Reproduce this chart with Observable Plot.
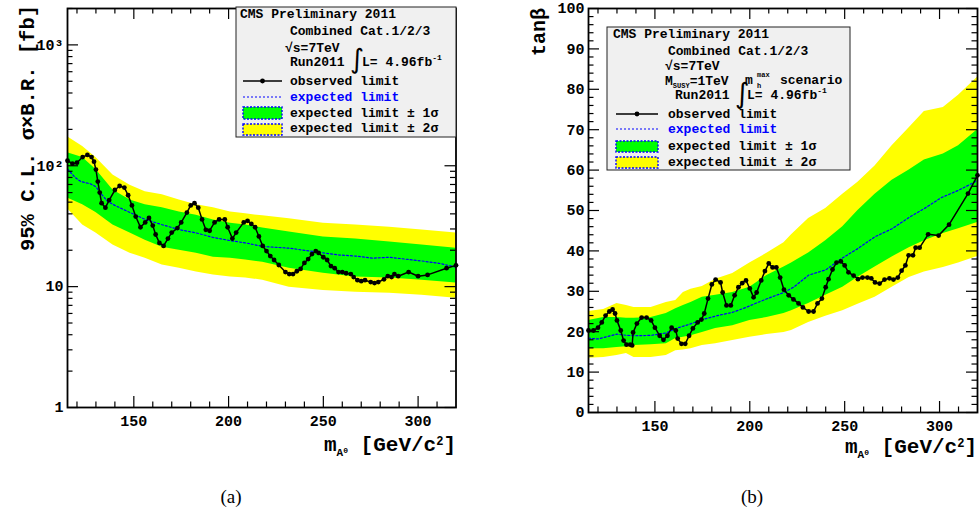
<!DOCTYPE html>
<html>
<head>
<meta charset="utf-8">
<script src="https://cdn.jsdelivr.net/npm/d3@7"></script>
<script src="https://cdn.jsdelivr.net/npm/@observablehq/plot@0.6"></script>
<style>
  html, body { margin: 0; padding: 0; background: #fff; }
  #root { position: relative; width: 980px; height: 511px; background: #fff; overflow: hidden; }
</style>
</head>
<body>
<div id="root"></div>
<script>
// ---------------- DATA ----------------
// Panel (a): 95% CL sigma x BR [fb] vs m_A0
const massObsA = [115,117.6,120,123,125.5,127.7,129,130,131,132,133,135,137,140,142.5,145,147,149,151,153.5,156,158,160,161.5,163.5,165.7,168,170,173,175,178,180,182,184,186,188,190,192.6,195,198,199.5,202,204,208,210,212,214,216,218,220,222,224,226.5,230,232,234,236,238,240,242,244,246,247.5,250,252,254,256,258,260,262,264.5,266,268,270,272,275,277,279,282,284,286,287.5,289.5,295,300,305,315,320];
const observedA = [110,104,106,118,123,118,108,93,74,60,49,45,52,63,68,66,57,47,38,31,34,37,32,27,23,21.7,25,28,30.5,34,41,47,49,45,36,29.5,29,34,36,36,31,25,28,34,35,33,31,26,21.7,19.7,17.9,16.6,15.1,13.2,12.7,12.7,13.4,14,15.7,16.9,18.6,19.7,19,17.5,16.6,14.8,14.2,13.2,13.2,12.9,12.7,12,11.3,11.1,11.3,10.9,10.7,10.9,11.5,12.2,12,12.7,12.2,13.2,12.2,12.5,14.2,15];
const massExpA = [115,119,122,127,130,133,136,140,148,156,165,174,183,192,201,209,218,232,246,258,267,276,285,293,302,311,320];
const expectedA = [94,80,74,71,67,58,51,47,41,36,32.5,29.6,27.8,25.5,24,23,21.5,20.8,19.4,18.3,17.9,17.2,17.5,16.9,16.3,15.6,14.5];
const massBandA = [115,123,130,139,148,156,165,174,183,192,201,209,218,232,250,267,285,302,320];
const plus2sA  = [174,144,117,84,69,61,57.5,52,47.5,45,41.5,40,38.5,36.5,33.5,32.4,31,29.4,27.8];
const plus1sA  = [128,117,93,63,52,47.5,45,41.5,39,35.6,33.5,32.4,30.6,28.3,25.7,24.8,23.4,22.1,20.8];
const minus1sA = [54,47.5,41,32.4,27.8,24.2,21.2,20,18.9,17.5,17.2,16.6,15.9,14.2,12.9,12,11.8,11.3,10.7];
const minus2sA = [44,32.4,27.8,22.1,18.9,17.2,15.1,14.2,13.2,12.5,12,11.8,11.3,9.9,9.3,9,8.8,8.5,8];

// Panel (b): tan(beta) vs m_A0
const massObsB = [115,117.6,120,122,124,126,127.7,129,130,132,133.5,135,137,138,138.5,140.5,143,145.6,148,150,152.5,154.5,156.6,158.8,161,162,164,166,168,170,172.5,174.5,176,178,180,182,184.6,185.7,187.7,190,192,194,196,198,200,202,203.6,206,208,210,212,214,216,218,220.5,223,225.7,228,231,233.6,235.7,238,240,241.5,243.6,245.7,248,250,252,254.7,257,259.4,262,264,266,268.4,271,273.6,275.7,278,280,282,283.7,286,287.4,289.5,294,299.5,305,315,320];
const observedB = [20.3,20.3,21,22.3,24,25,25.5,24.5,22.8,20.3,17.8,16.8,16.8,16.6,19.8,22,23.5,23.5,22.8,21,19,18,19,21,20.3,18.3,17,17,19,20.8,22.3,23,24.5,28.2,31.7,32.9,32.2,29.7,26.5,26.5,29,31,32,32.7,30.7,28.5,29.7,32.7,35,36.9,35.9,35.9,33.4,30.4,29,28,27,26,25,25,27,28.2,31,33,35.4,37.1,37.4,36.4,34.7,33.9,33,33.4,33.4,33.2,32.2,31.9,32.9,33.2,32.9,33.4,35.1,36.4,38.9,38.9,40.8,40.8,44.1,43.8,46.5,54.2,58.7];
const massExpB = [115,120,125,130,135,140,148,156,161,168,175,183,191,198,204,211,218,223,231,240,248,257,266,275,284,292,301,310,320];
const expectedB = [18.4,18.2,18.8,19.4,19.1,19,19.1,19.7,20.8,21.8,23,24,24.8,26,27.2,28.5,29.7,31,34,35.3,38,40.6,43.5,45.5,48.3,50.5,53.2,55,57.4];
const massBandB = [115,123,130,135,139,148,156,161,165,169,175,182,191,200,209,218,222,231,240,249,257,266,275,284,292,302,310,320];
const plus2sB  = [25,25.5,27,26.5,26,26,27.2,27.7,29.7,30.5,31.2,33,34.4,37,39.4,42,44,48,50.5,54,57,61,66,70.5,74.5,75.5,78.5,83];
const plus1sB  = [22.8,23.5,23.5,23.3,23.3,23.5,24.5,25.7,26.5,27.2,28.5,29,29.7,31,33.9,36,37,39.5,42.5,46,50,54,57.5,60,62.5,64,66,70];
const minus1sB = [15.8,15.8,16.1,16.3,16.6,16.8,17,18.3,18.6,19,19.8,20.8,21.5,22.8,23.5,24.5,25.2,27,29,31,33.5,36,38.5,40.8,42.5,44.3,45.5,47];
const minus2sB = [13.4,13.6,14.1,14.6,13.6,13.6,14.1,15.3,15.5,15.8,16.6,17,17.8,18.6,19.3,19.8,20.3,22.3,23.8,25.2,26.8,28.5,31,33.4,34.8,35.9,37,38.6];

// Ticks
const xMajorTicks = [150,200,250,300];
const xMinorTicks = [120,130,140,160,170,180,190,210,220,230,240,260,270,280,290,310];
const yMajorTicksA = [1,10,100,1000];
const yTickLabelsA = ["1","10","10²","10³"];
const yMinorTicksA = [2,3,4,5,6,7,8,9,20,30,40,50,60,70,80,90,200,300,400,500,600,700,800,900,2000];
const yMajorTicksB = [0,10,20,30,40,50,60,70,80,90,100];
const yMinorTicksB = [2,4,6,8,12,14,16,18,22,24,26,28,32,34,36,38,42,44,46,48,52,54,56,58,62,64,66,68,72,74,76,78,82,84,86,88,92,94,96,98];

// ---------------- BUILD ----------------
const zip2 = (ms, vs) => ms.map((m, i) => ({m, v: vs[i]}));
const bandA = massBandA.map((m, i) => ({m, y2u: plus2sA[i], y1u: plus1sA[i], y1d: minus1sA[i], y2d: minus2sA[i]}));
const bandB = massBandB.map((m, i) => ({m, y2u: plus2sB[i], y1u: plus1sB[i], y1d: minus1sB[i], y2d: minus2sB[i]}));
const obsA = zip2(massObsA, observedA), expA = zip2(massExpA, expectedA);
const obsB = zip2(massObsB, observedB), expB = zip2(massExpB, expectedB);

const FONT = "'Liberation Mono', 'DejaVu Sans Mono', monospace";
const MAJ = 11, MIN = 5.5;

function panel({band, obs, exp, yScale, yMajor, yMinor, yFormat, margins, width, height}) {
  const fw = width - margins.left - margins.right;
  const fh = height - margins.top - margins.bottom;
  const tickStyle = {stroke: "black", strokeWidth: 1.2};
  return Plot.plot({
    width, height,
    marginLeft: margins.left, marginRight: margins.right, marginTop: margins.top, marginBottom: margins.bottom,
    x: {domain: [115, 320]},
    y: yScale,
    style: {fontFamily: FONT, fontSize: "15px", fontWeight: "bold", color: "black", background: "transparent", overflow: "visible"},
    marks: [
      Plot.areaY(band, {x: "m", y1: "y2d", y2: "y2u", fill: "#ffff00"}),
      Plot.areaY(band, {x: "m", y1: "y1d", y2: "y1u", fill: "#00ff00"}),
      Plot.line(exp, {x: "m", y: "v", stroke: "#0000ff", strokeWidth: 1.2, strokeDasharray: "2,2"}),
      Plot.line(obs, {x: "m", y: "v", stroke: "black", strokeWidth: 1.5}),
      Plot.dot(obs, {x: "m", y: "v", r: 2.4, fill: "black"}),
      // inner ticks: bottom / top
      Plot.tickX(xMajorTicks, {x: d => d, insetTop: fh - MAJ, ...tickStyle}),
      Plot.tickX(xMinorTicks, {x: d => d, insetTop: fh - MIN, ...tickStyle}),
      Plot.tickX(xMajorTicks, {x: d => d, insetBottom: fh - MAJ, ...tickStyle}),
      Plot.tickX(xMinorTicks, {x: d => d, insetBottom: fh - MIN, ...tickStyle}),
      // inner ticks: left / right
      Plot.tickY(yMajor, {y: d => d, insetRight: fw - MAJ, ...tickStyle}),
      Plot.tickY(yMinor, {y: d => d, insetRight: fw - MIN, ...tickStyle}),
      Plot.tickY(yMajor, {y: d => d, insetLeft: fw - MAJ, ...tickStyle}),
      Plot.tickY(yMinor, {y: d => d, insetLeft: fw - MIN, ...tickStyle}),
      Plot.axisX({ticks: xMajorTicks, tickSize: 0, tickPadding: 8, label: null, tickFormat: d => String(d)}),
      Plot.axisY({ticks: yMajor, tickSize: 0, tickPadding: 4, label: null, tickFormat: yFormat}),
      Plot.frame({stroke: "black", strokeWidth: 1.8})
    ]
  });
}

const root = document.getElementById("root");

const plotA = panel({
  band: bandA, obs: obsA, exp: expA,
  yScale: {type: "log", domain: [1, 2000]},
  yMajor: yMajorTicksA, yMinor: yMinorTicksA,
  yFormat: d => yTickLabelsA[yMajorTicksA.indexOf(d)],
  margins: {left: 67, right: 34.5, top: 8, bottom: 33}, width: 490, height: 440
});
plotA.style.position = "absolute"; plotA.style.left = "0px"; plotA.style.top = "0px";
root.appendChild(plotA);

const plotB = panel({
  band: bandB, obs: obsB, exp: expB,
  yScale: {type: "linear", domain: [0, 100]},
  yMajor: yMajorTicksB, yMinor: yMinorTicksB,
  yFormat: d => String(d),
  margins: {left: 98, right: 3, top: 8, bottom: 28}, width: 490, height: 440
});
plotB.style.position = "absolute"; plotB.style.left = "490px"; plotB.style.top = "0px";
root.appendChild(plotB);

// ---------------- OVERLAY: labels, legends, captions ----------------
const ov = d3.select(root).append("svg")
  .attr("width", 980).attr("height", 511)
  .style("position", "absolute").style("left", "0px").style("top", "0px")
  .style("overflow", "visible");

function text(x, y, parts, {size = 13, anchor = "start", fill = "black", weight = "bold", family = FONT, transform = null} = {}) {
  const t = ov.append("text")
    .attr("text-anchor", anchor)
    .attr("fill", fill)
    .style("font-family", family).style("font-size", size + "px").style("font-weight", weight);
  if (transform) t.attr("transform", transform); else t.attr("x", x).attr("y", y);
  if (typeof parts === "string") { t.text(parts); return t; }
  for (const p of parts) {
    const s = t.append("tspan").text(p.t);
    if (p.size) s.style("font-size", p.size + "px");
    if (p.dy) s.attr("dy", p.dy);
  }
  return t;
}

// axis titles
text(0, 0, "95% C.L. σ×B.R. [fb]", {size: 20.5, anchor: "end", transform: "translate(34,5) rotate(-90)"});
text(0, 0, "tanβ", {size: 20, anchor: "end", transform: "translate(545,8) rotate(-90)"});
const xTitle = [
  {t: "m"}, {t: "A", size: 11, dy: 5}, {t: "0", size: 8, dy: -3},
  {t: " [GeV/c", size: 21, dy: -2}, {t: "2", size: 12, dy: -6}, {t: "]", size: 21, dy: 6}
];
text(456, 451, xTitle, {size: 21, anchor: "end"});
text(977, 453, xTitle, {size: 21, anchor: "end"});

// captions
text(231, 503, "(a)", {size: 19, anchor: "middle", weight: "normal", family: "'Liberation Serif', 'DejaVu Serif', serif"});
text(752, 503, "(b)", {size: 19, anchor: "middle", weight: "normal", family: "'Liberation Serif', 'DejaVu Serif', serif"});

function legendEntries(x0, x1, xt, yLine1, yText1, yLine2, yText2, box1, yText3, box2, yText4) {
  ov.append("line").attr("x1", x0).attr("x2", x1).attr("y1", yLine1).attr("y2", yLine1).attr("stroke", "black").attr("stroke-width", 1.5);
  ov.append("circle").attr("cx", (x0 + x1) / 2).attr("cy", yLine1).attr("r", 2.4).attr("fill", "black");
  text(xt, yText1, "observed limit");
  ov.append("line").attr("x1", x0).attr("x2", x1).attr("y1", yLine2).attr("y2", yLine2).attr("stroke", "#0000ff").attr("stroke-width", 1.2).attr("stroke-dasharray", "2,2");
  text(xt, yText2, "expected limit", {fill: "#0000ff"});
  ov.append("rect").attr("x", x0).attr("y", box1[0]).attr("width", x1 - x0).attr("height", box1[1] - box1[0])
    .attr("fill", "#00ff00").attr("stroke", "#0000ff").attr("stroke-width", 1.4).attr("stroke-dasharray", "2,1.5");
  text(xt, yText3, "expected limit ± 1σ");
  ov.append("rect").attr("x", x0).attr("y", box2[0]).attr("width", x1 - x0).attr("height", box2[1] - box2[0])
    .attr("fill", "#ffff00").attr("stroke", "#0000ff").attr("stroke-width", 1.4).attr("stroke-dasharray", "2,1.5");
  text(xt, yText4, "expected limit ± 2σ");
}

// legend (a)
ov.append("rect").attr("x", 236).attr("y", 7).attr("width", 220).attr("height", 130).attr("fill", "#f0f0f0").attr("stroke", "#222").attr("stroke-width", 1);
text(240, 18, "CMS Preliminary 2011");
text(290, 35, "Combined Cat.1/2/3");
text(285, 52, "√s=7TeV");
text(290, 66, "Run2011");
text(350, 68, "∫", {size: 27, weight: "normal", family: "'DejaVu Sans', sans-serif"});
text(362, 66, [{t: "L= 4.96fb"}, {t: "-1", size: 8, dy: -6}]);
legendEntries(243, 282, 290, 81, 85, 97, 100.5, [107, 119], 116.5, [124, 135], 132);

// legend (b)
ov.append("rect").attr("x", 607).attr("y", 27).attr("width", 243).attr("height", 143).attr("fill", "#f0f0f0").attr("stroke", "#222").attr("stroke-width", 1);
text(613, 38, "CMS Preliminary 2011");
text(668, 55, "Combined Cat.1/2/3");
text(665, 70, "√s=7TeV");
text(665, 85, [{t: "M"}, {t: "SUSY", size: 7, dy: 3}, {t: "=1TeV", size: 13, dy: -3}]);
text(735, 103, "∫", {size: 28, weight: "normal", family: "'DejaVu Sans', sans-serif"});
text(745, 84, "m");
text(757, 77, "max", {size: 7});
text(757, 88, "h", {size: 7});
text(780, 84, "scenario");
text(675, 99, "Run2011");
text(747, 99, [{t: "L= 4.96fb"}, {t: "-1", size: 8, dy: -6}]);
legendEntries(616, 658, 668, 114, 118, 129, 133, [141, 152], 150, [157, 168], 166);
</script>
</body>
</html>
